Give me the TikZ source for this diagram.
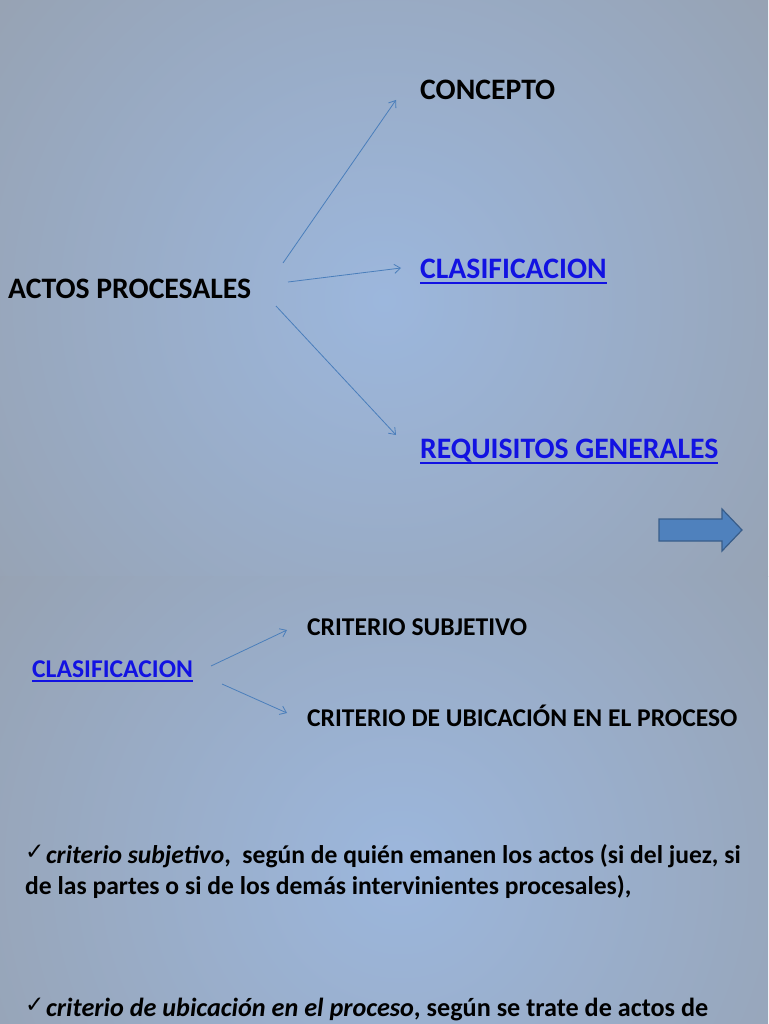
\documentclass[tikz,border=0pt]{standalone}
\usepackage{fontspec}
\setmainfont{Carlito}
\newfontfamily\symfont{DejaVu Sans}
\usetikzlibrary{arrows.meta}
\definecolor{bggray}{RGB}{148,153,160}
\definecolor{bgblue}{RGB}{156,183,221}
\definecolor{linkblue}{RGB}{18,18,226}
\definecolor{connc}{RGB}{74,126,187}
\definecolor{arrfill}{RGB}{79,129,189}
\definecolor{arrdraw}{RGB}{56,93,138}
\tikzset{
 bigtxt/.style={inner sep=0, anchor=base west, font=\fontsize{29.7}{34}\selectfont\bfseries},
 midtxt/.style={inner sep=0, anchor=base west, font=\fontsize{25.6}{30}\selectfont\bfseries},
 paratxt/.style={inner sep=0, anchor=base west, font=\fontsize{25.6}{30}\selectfont\bfseries},
 paratxtb/.style={inner sep=0, anchor=base west, font=\fontsize{26.2}{30}\selectfont\bfseries},
 checktxt/.style={inner sep=0, anchor=base west, font=\symfont\fontsize{23}{23}\selectfont},
 linktxt/.style={text=linkblue},
 connarrow/.style={draw=connc, line width=0.8pt, -{Straight Barb[length=6pt,width=9pt]}},
 uline/.style={draw=linkblue, line width=1.6pt},
 blockarrow/.style={fill=arrfill, draw=arrdraw, line width=1.2pt, line join=miter},
}
\begin{document}
\begin{tikzpicture}[x=1pt,y=-1pt]
\useasboundingbox (0,0) rectangle (768,1024);
\fill[bggray] (0,0) rectangle (768,1024);
\begin{scope}
\clip (0,0) rectangle (768,576);
\shade[inner color=bgblue, outer color=bggray] (384,300) circle (720);
\end{scope}
\begin{scope}
\clip (0,576) rectangle (768,1024);
\shade[inner color=bgblue, outer color=bggray] (400,870) circle (720);
\end{scope}

% top slide
\node[bigtxt] (actos) at (8,298) {ACTOS PROCESALES};
\node[bigtxt] (concepto) at (420,100) {CONCEPTO};
\node[bigtxt, linktxt] (clas1) at (420,278) {CLASIFICACION};
\node[bigtxt, linktxt] (req) at (420,458) {REQUISITOS GENERALES};
\draw[uline] ([yshift=-5pt]clas1.base west) -- ([yshift=-5pt]clas1.base east);
\draw[uline] ([yshift=-5pt]req.base west) -- ([yshift=-5pt]req.base east);

\coordinate (a1s) at (283,263); \coordinate (a1e) at (396,100);
\coordinate (a2s) at (288,282); \coordinate (a2e) at (401,268);
\coordinate (a3s) at (276,306); \coordinate (a3e) at (396,435);
\draw[connarrow] (a1s) -- (a1e);
\draw[connarrow] (a2s) -- (a2e);
\draw[connarrow] (a3s) -- (a3e);

\draw[blockarrow] (659,519) -- (722,519) -- (722,509) -- (742,530) -- (722,551) -- (722,541) -- (659,541) -- cycle;

% bottom slide
\node[midtxt, linktxt] (clas2) at (32,677) {CLASIFICACION};
\draw[uline] ([yshift=-4pt]clas2.base west) -- ([yshift=-4pt]clas2.base east);
\node[midtxt] (subj) at (307,635) {CRITERIO SUBJETIVO};
\node[midtxt] (ubic) at (307,726) {CRITERIO DE UBICACIÓN EN EL PROCESO};
\coordinate (b1s) at (211,666); \coordinate (b1e) at (287,630);
\coordinate (b2s) at (222,684); \coordinate (b2e) at (287,713);
\draw[connarrow] (b1s) -- (b1e);
\draw[connarrow] (b2s) -- (b2e);

\node[checktxt] (ck1) at (25,859) {✓};
\node[paratxt] (p1a) at (46,863) {\textit{criterio subjetivo},\ \ según de quién emanen los actos (si del juez, si};
\node[paratxt] (p1b) at (25,894) {de las partes o si de los demás intervinientes procesales),};
\node[checktxt] (ck2) at (25,1012) {✓};
\node[paratxtb] (p2a) at (46,1016) {\textit{criterio de ubicación en el proceso}, según se trate de actos de};
\end{tikzpicture}
\end{document}
